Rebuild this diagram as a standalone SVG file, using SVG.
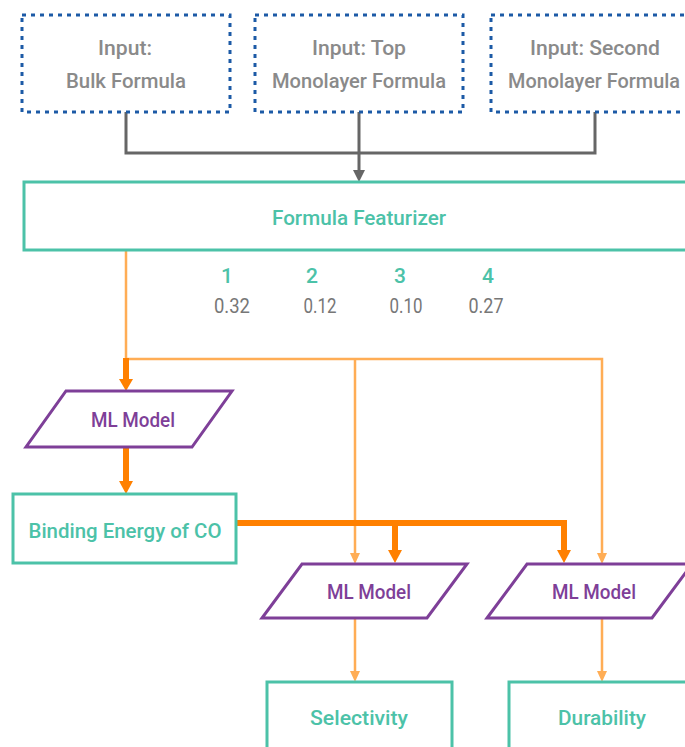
<svg xmlns="http://www.w3.org/2000/svg" width="685" height="747" viewBox="0 0 685 747">
<style>
text{font-family:Roboto,"Liberation Sans",sans-serif;font-size:21px;font-weight:500;text-anchor:middle}
.in rect{fill:#fff;stroke:#1c5aa6;stroke-width:3;stroke-dasharray:4 5}
.in text{fill:#8a8a8a}
.tb{fill:#fff;stroke:#4cc2a8;stroke-width:3}
.tt{fill:#4cc2a8}
.ml polygon{fill:#fff;stroke:#7e3f98;stroke-width:3}
.ml text{fill:#7e3f98}
.g{fill:none;stroke:#666;stroke-width:3}
.ga{fill:#666}
.thin{fill:none;stroke:#ffad55;stroke-width:2.5}
.thina{fill:#ffad55}
.thick{fill:none;stroke:#ff8000;stroke-width:6}
.thicka{fill:#ff8000}
.num{fill:#4cc2a8}
.val{fill:#777;font-weight:400}
</style>
<g id="connectors">
<path class="g" d="M126,111 V153 H595 V111 M359,111 V171"/>
<polygon class="ga" points="353,170 365,170 359,182"/>
<path class="thin" d="M126,250 V359 H602 V554 M355,359 V554 M355,618 V673 M602,618 V673"/>
<polygon class="thina" points="350,553 360,553 355,564"/>
<polygon class="thina" points="597,553 607,553 602,564"/>
<polygon class="thina" points="350,671 360,671 355,682"/>
<polygon class="thina" points="597,671 607,671 602,682"/>
<path class="thick" d="M126,358 V380 M126,447 V482 M236,523 H564 V551 M395,523 V551"/>
<polygon class="thicka" points="119,379 133,379 126,391"/>
<polygon class="thicka" points="119,481 133,481 126,494"/>
<polygon class="thicka" points="388,550 402,550 395,563"/>
<polygon class="thicka" points="557,550 571,550 564,563"/>
</g>
<g id="input-bulk" class="in">
<rect x="22" y="15" width="208" height="97"/>
<text x="125" y="55" textLength="54" lengthAdjust="spacingAndGlyphs">Input:</text>
<text x="126" y="88" textLength="120" lengthAdjust="spacingAndGlyphs">Bulk Formula</text>
</g>
<g id="input-top" class="in">
<rect x="255" y="15" width="208" height="97"/>
<text x="359" y="55" textLength="94" lengthAdjust="spacingAndGlyphs">Input: Top</text>
<text x="359" y="88" textLength="174" lengthAdjust="spacingAndGlyphs">Monolayer Formula</text>
</g>
<g id="input-second" class="in">
<rect x="491" y="15" width="208" height="97"/>
<text x="595" y="55" textLength="130" lengthAdjust="spacingAndGlyphs">Input: Second</text>
<text x="594" y="88" textLength="172" lengthAdjust="spacingAndGlyphs">Monolayer Formula</text>
</g>
<g id="featurizer">
<rect class="tb" x="24" y="182" width="680" height="68"/>
<text class="tt" x="359" y="225" textLength="174" lengthAdjust="spacingAndGlyphs">Formula Featurizer</text>
</g>
<g id="features">
<text class="num" x="227" y="283">1</text>
<text class="num" x="312" y="283">2</text>
<text class="num" x="400" y="283">3</text>
<text class="num" x="488" y="283">4</text>
<text class="val" x="232" y="313" textLength="36" lengthAdjust="spacingAndGlyphs">0.32</text>
<text class="val" x="320" y="313" textLength="33" lengthAdjust="spacingAndGlyphs">0.12</text>
<text class="val" x="406" y="313" textLength="33" lengthAdjust="spacingAndGlyphs">0.10</text>
<text class="val" x="486" y="313" textLength="35" lengthAdjust="spacingAndGlyphs">0.27</text>
</g>
<g id="ml-model-1" class="ml">
<polygon points="66,391 232,391 192,447 26,447"/>
<text x="133" y="427" textLength="84" lengthAdjust="spacingAndGlyphs">ML Model</text>
</g>
<g id="binding-energy">
<rect class="tb" x="13" y="494" width="223" height="69"/>
<text class="tt" x="125" y="538" textLength="193" lengthAdjust="spacingAndGlyphs">Binding Energy of CO</text>
</g>
<g id="ml-model-2" class="ml">
<polygon points="302,564 467,564 427,618 262,618"/>
<text x="369" y="599" textLength="84" lengthAdjust="spacingAndGlyphs">ML Model</text>
</g>
<g id="ml-model-3" class="ml">
<polygon points="527,564 692,564 652,618 487,618"/>
<text x="594" y="599" textLength="84" lengthAdjust="spacingAndGlyphs">ML Model</text>
</g>
<g id="selectivity">
<rect class="tb" x="267" y="682" width="185" height="80"/>
<text class="tt" x="359" y="725" textLength="98" lengthAdjust="spacingAndGlyphs">Selectivity</text>
</g>
<g id="durability">
<rect class="tb" x="509" y="682" width="200" height="80"/>
<text class="tt" x="602" y="725" textLength="88" lengthAdjust="spacingAndGlyphs">Durability</text>
</g>
</svg>
